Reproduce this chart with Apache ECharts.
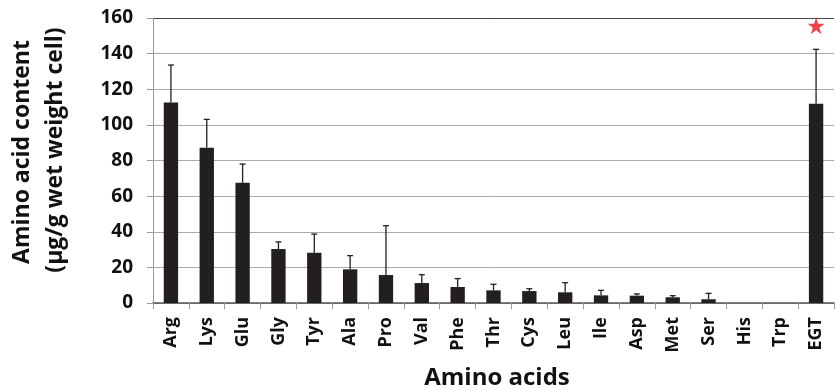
<!DOCTYPE html>
<html>
<head>
<meta charset="utf-8">
<script src="https://cdn.jsdelivr.net/npm/echarts@6/dist/echarts.min.js"></script>
<style>html,body{margin:0;padding:0;background:#fff;}#c{width:835px;height:390px;}</style>
</head>
<body>
<div id="c"></div>
<script>
var categories = ['Arg','Lys','Glu','Gly','Tyr','Ala','Pro','Val','Phe','Thr','Cys','Leu','Ile','Asp','Met','Ser','His','Trp','EGT'];
var means = [112.5, 87.2, 67.5, 30.3, 28.2, 18.9, 15.7, 11.2, 9.0, 7.1, 6.7, 6.0, 4.3, 4.1, 3.2, 2.1, 0, 0, 111.9];
var errorTops = [133.6, 103.1, 78.0, 34.3, 38.7, 26.6, 43.4, 15.9, 13.7, 10.5, 8.0, 11.4, 7.1, 5.1, 4.1, 5.4, 0, 0, 142.4];
var starCategory = 'EGT';
var starValue = 155.6;
var yTicks = [0, 20, 40, 60, 80, 100, 120, 140, 160];

var chart = echarts.init(document.getElementById('c'));
var font = '"Open Sans", "DejaVu Sans", sans-serif';
var errData = categories.map(function (c, i) { return [i, means[i], errorTops[i]]; });

chart.setOption({
  animation: false,
  grid: { left: 153, right: 1, top: 18, bottom: 87, containLabel: false },
  xAxis: {
    type: 'category',
    data: categories,
    axisLine: { lineStyle: { color: '#555', width: 1.5 } },
    axisTick: { show: true, alignWithLabel: false, length: 6, lineStyle: { color: '#999' } },
    axisLabel: { rotate: 90, margin: 14, color: '#111', fontFamily: font, fontWeight: 'bold', fontSize: 18 }
  },
  yAxis: {
    type: 'value',
    min: yTicks[0],
    max: yTicks[yTicks.length - 1],
    interval: 20,
    axisLine: { show: true, lineStyle: { color: '#999' } },
    axisTick: { show: true, length: 6, lineStyle: { color: '#999' } },
    axisLabel: { margin: 20, color: '#111', fontFamily: font, fontWeight: 'bold', fontSize: 19 },
    splitLine: { show: true, lineStyle: { color: ['#aaa','#aaa','#aaa','#aaa','#aaa','#aaa','#aaa','#aaa','#444'], width: 1 } }
  },
  series: [
    {
      type: 'bar',
      data: means,
      barWidth: '40%',
      itemStyle: { color: '#231f20' },
      z: 2
    },
    {
      type: 'custom',
      data: errData,
      z: 3,
      renderItem: function (params, api) {
        var i = api.value(0);
        var lo = api.coord([i, api.value(1)]);
        var hi = api.coord([i, api.value(2)]);
        if (api.value(2) <= api.value(1)) return null;
        var hw = 3;
        var st = { stroke: '#231f20', lineWidth: 1.3 };
        return {
          type: 'group',
          children: [
            { type: 'line', shape: { x1: lo[0], y1: lo[1], x2: hi[0], y2: hi[1] }, style: st },
            { type: 'line', shape: { x1: hi[0] - hw, y1: hi[1], x2: hi[0] + hw, y2: hi[1] }, style: st }
          ]
        };
      }
    },
    {
      type: 'scatter',
      data: [[starCategory, starValue]],
      symbol: 'path://M50,0 L61.2,34.5 L97.6,34.5 L68.2,55.9 L79.4,90.5 L50,69.1 L20.6,90.5 L31.8,55.9 L2.4,34.5 L38.8,34.5 Z',
      symbolSize: 17,
      itemStyle: { color: '#e8141e' },
      z: 4
    }
  ],
  graphic: [
    {
      type: 'text',
      style: { text: 'Amino acid content', font: 'bold 23px ' + font, fill: '#111', textAlign: 'center', textVerticalAlign: 'middle' },
      rotation: Math.PI / 2,
      x: 22, y: 152
    },
    {
      type: 'text',
      style: { text: '(\u03bcg/g wet weight cell)', font: 'bold 23px ' + font, fill: '#111', textAlign: 'center', textVerticalAlign: 'middle' },
      rotation: Math.PI / 2,
      x: 55, y: 150
    },
    {
      type: 'text',
      style: { text: 'Amino acids', font: 'bold 24px ' + font, fill: '#111', textAlign: 'center', textVerticalAlign: 'middle' },
      x: 497, y: 378
    }
  ]
});
</script>
</body>
</html>
